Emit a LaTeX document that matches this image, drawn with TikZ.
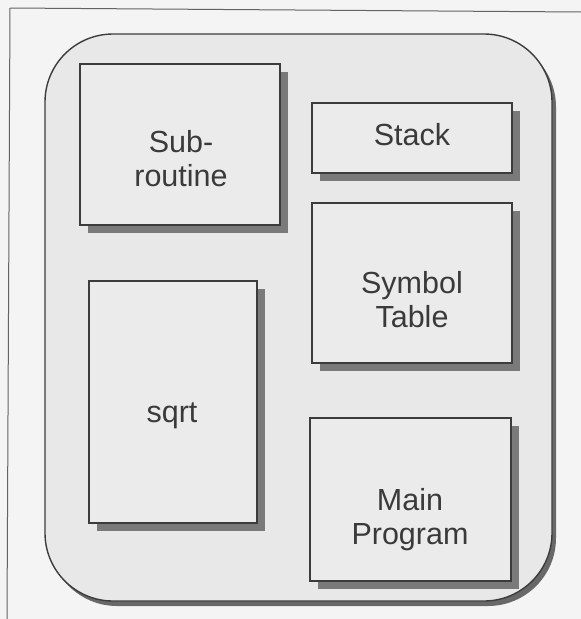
\documentclass[tikz,border=0pt]{standalone}
\usepackage{fontspec}
\setmainfont{Liberation Sans}
\usetikzlibrary{shadows}
\definecolor{paper}{HTML}{F4F4F4}
\definecolor{panel}{HTML}{E8E8E8}
\definecolor{boxfill}{HTML}{EBEBEB}
\definecolor{ink}{HTML}{3A3A3A}
\definecolor{edge}{HTML}{3C3C3C}
\definecolor{shade}{HTML}{7A7A7A}
\begin{document}
\begin{tikzpicture}[x=1pt,y=-1pt,
  panelbox/.style={draw=edge, line width=1.4pt, fill=panel, rounded corners=68pt,
    drop shadow={shadow xshift=4pt, shadow yshift=-5pt, fill=shade!85!black, opacity=1}},
  membox/.style={draw=edge, line width=1.4pt, fill=boxfill, inner sep=0pt,
    drop shadow={shadow xshift=8pt, shadow yshift=-8pt, fill=shade, opacity=1}},
  lbl/.style={text=ink, align=center, inner sep=0pt,
    font=\fontsize{30.5}{34}\selectfont}]
  % page
  \fill[paper] (0,0) rectangle (581,619);
  \useasboundingbox (0,0) rectangle (581,619);
  % thin frame lines
  \draw[edge!80, line width=1pt] (10,8) -- (581,12);
  \draw[edge!80, line width=1pt] (10,8) -- (7,619);
  % memory panel
  \path[panelbox] (45,34) rectangle (552,601);
  % blocks
  \node[membox, minimum width=200pt, minimum height=161pt] (sub) at (180,144.5) {};
  \node[membox, minimum width=200pt, minimum height=70pt] (stack) at (412,138) {};
  \node[membox, minimum width=200pt, minimum height=160pt] (sym) at (412,283) {};
  \node[membox, minimum width=168pt, minimum height=242pt] (sqrt) at (173,402) {};
  \node[membox, minimum width=201pt, minimum height=163pt] (main) at (410.5,499.5) {};
  % labels
  \node[lbl] (subT) at (181,159) {Sub-\\routine};
  \node[lbl, anchor=base] (stackT) at (412,145) {Stack};
  \node[lbl] (symT) at (412,300) {Symbol\\Table};
  \node[lbl, anchor=base] (sqrtT) at (172,422) {sqrt};
  \node[lbl] (mainT) at (410,520) {Main\\Program};
\end{tikzpicture}
\end{document}
